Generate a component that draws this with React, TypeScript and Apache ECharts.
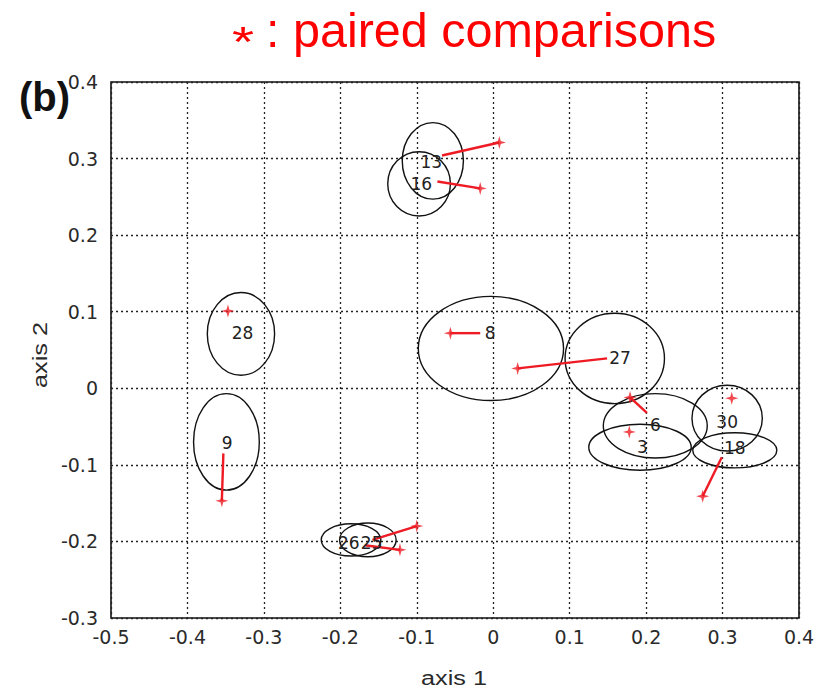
import React, { useEffect, useRef } from "react";
import * as echarts from "echarts";

// Ellipse (subject) data
const labels = ["13", "16", "28", "9", "8", "27", "6", "3", "30", "18", "26", "25"];
const centerX = [-0.079, -0.097, -0.33, -0.349, -0.003, 0.159, 0.212, 0.192, 0.306, 0.316, -0.186, -0.164];
const centerY = [0.297, 0.267, 0.071, -0.07, 0.052, 0.039, -0.049, -0.077, -0.039, -0.081, -0.198, -0.198];
const radiusX = [0.04, 0.041, 0.044, 0.043, 0.095, 0.065, 0.068, 0.067, 0.046, 0.055, 0.039, 0.037];
const radiusY = [0.05, 0.042, 0.054, 0.063, 0.068, 0.059, 0.042, 0.03, 0.043, 0.023, 0.021, 0.022];
const labelX = [-0.081, -0.094, -0.328, -0.348, -0.004, 0.166, 0.212, 0.195, 0.306, 0.316, -0.189, -0.159];
const labelY = [0.295, 0.267, 0.072, -0.072, 0.072, 0.039, -0.048, -0.077, -0.044, -0.078, -0.202, -0.202];
// Paired-comparison estimates (red stars)
const starX = [0.008, -0.017, -0.347, -0.355, -0.056, 0.032, 0.179, 0.178, 0.312, 0.274, -0.122, -0.1];
const starY = [0.321, 0.261, 0.101, -0.147, 0.072, 0.026, -0.012, -0.057, -0.013, -0.141, -0.211, -0.18];
// Where the connecting red line ends (null = no line)
const lineEndX = [-0.067, -0.073, null, -0.353, -0.017, 0.149, 0.201, null, null, 0.299, -0.168, -0.158];
const lineEndY = [0.304, 0.27, null, -0.085, 0.072, 0.039, -0.032, null, null, -0.09, -0.205, -0.198];

const xTicks = { min: -0.5, max: 0.4, interval: 0.1 };
const yTicks = { min: -0.3, max: 0.4, interval: 0.1 };

const FONT = "'Liberation Sans', Arial, Helvetica, sans-serif";
const WIDE = "'DejaVu Sans', 'Liberation Sans', Arial, sans-serif";
const RED = "#ee1b24";
const TITLE_RED = "#ff0000";
const STAR = "path://M0,-10 L2.2,-2.2 L10,0 L2.2,2.2 L0,10 L-2.2,2.2 L-10,0 L-2.2,-2.2 Z";

const fmt = (v: number) => {
  const n = parseFloat(v.toFixed(1));
  return (n === 0 ? 0 : n).toString();
};

export default function App() {
  const ref = useRef<HTMLDivElement>(null);
  useEffect(() => {
    if (!ref.current) return;
    const chart = echarts.init(ref.current, undefined, { renderer: "svg" });

    const ellipseData = labels.map((_, i) => [centerX[i], centerY[i], radiusX[i], radiusY[i]]);
    const lineData: number[][] = [];
    labels.forEach((_, i) => {
      if (lineEndX[i] !== null && lineEndY[i] !== null) {
        lineData.push([starX[i], starY[i], lineEndX[i] as number, lineEndY[i] as number]);
      }
    });
    const starData = labels.map((_, i) => [starX[i], starY[i]]);
    const labelData = labels.map((l, i) => [labelX[i], labelY[i], l]);

    const option: any = {
      animation: false,
      backgroundColor: "#ffffff",
      grid: {
        left: 111,
        top: 82,
        width: 688,
        height: 536,
        show: true,
        borderColor: "#111",
        borderWidth: 1.6,
        backgroundColor: "transparent",
      },
      xAxis: {
        type: "value",
        min: xTicks.min,
        max: xTicks.max,
        interval: xTicks.interval,
        axisLine: { show: false },
        axisTick: { show: false },
        axisLabel: {
          formatter: fmt,
          fontFamily: WIDE,
          fontSize: 19,
          color: "#2a2a2a",
          margin: 9,
        },
        splitLine: { show: true, lineStyle: { color: "#222", type: [2, 3], width: 1.3 } },
      },
      yAxis: {
        type: "value",
        min: yTicks.min,
        max: yTicks.max,
        interval: yTicks.interval,
        axisLine: { show: false },
        axisTick: { show: false },
        axisLabel: {
          formatter: fmt,
          fontFamily: WIDE,
          fontSize: 19,
          color: "#2a2a2a",
          margin: 13,
        },
        splitLine: { show: true, lineStyle: { color: "#222", type: [2, 3], width: 1.3 } },
      },
      graphic: [
        {
          type: "text",
          x: 243,
          y: 42,
          scaleX: 1.35,
          style: { text: "*", font: `42px ${FONT}`, fill: TITLE_RED, align: "center", verticalAlign: "middle" },
        },
        {
          type: "text",
          left: 266,
          top: 5,
          style: { text: ": paired comparisons", font: `48.5px ${FONT}`, fill: TITLE_RED },
        },
        {
          type: "text",
          left: 19,
          top: 77,
          style: { text: "(b)", font: `bold 40px ${FONT}`, fill: "#111" },
        },
        {
          type: "text",
          x: 454,
          y: 678,
          scaleX: 1.2,
          style: { text: "axis 1", font: `21px ${FONT}`, fill: "#2a2a2a", align: "center", verticalAlign: "middle" },
        },
        {
          type: "text",
          x: 40,
          y: 355,
          rotation: Math.PI / 2,
          scaleX: 1.2,
          style: { text: "axis 2", font: `21px ${FONT}`, fill: "#2a2a2a", align: "center", verticalAlign: "middle" },
        },
      ],
      series: [
        {
          type: "custom",
          name: "ellipses",
          data: ellipseData,
          encode: { x: 0, y: 1 },
          renderItem: (params: any, api: any) => {
            const c = api.coord([api.value(0), api.value(1)]);
            const s = api.size([api.value(2), api.value(3)]);
            return {
              type: "ellipse",
              shape: { cx: c[0], cy: c[1], rx: s[0], ry: s[1] },
              style: { fill: "none", stroke: "#111", lineWidth: 1.4 },
            };
          },
          z: 3,
        },
        {
          type: "custom",
          name: "links",
          data: lineData,
          encode: { x: 0, y: 1 },
          renderItem: (params: any, api: any) => {
            const a = api.coord([api.value(0), api.value(1)]);
            const b = api.coord([api.value(2), api.value(3)]);
            return {
              type: "line",
              shape: { x1: a[0], y1: a[1], x2: b[0], y2: b[1] },
              style: { stroke: RED, lineWidth: 2.4 },
            };
          },
          z: 4,
        },
        {
          type: "scatter",
          name: "paired",
          data: starData,
          symbol: STAR,
          symbolSize: 13,
          itemStyle: { color: RED },
          z: 5,
        },
        {
          type: "custom",
          name: "labels",
          data: labelData,
          encode: { x: 0, y: 1 },
          renderItem: (params: any, api: any) => {
            const p = api.coord([api.value(0), api.value(1)]);
            return {
              type: "text",
              x: p[0],
              y: p[1],
              style: {
                text: labelData[params.dataIndex][2],
                font: `17px ${WIDE}`,
                fill: "#222",
                align: "center",
                verticalAlign: "middle",
              },
            };
          },
          z: 6,
        },
      ],
    };
    chart.setOption(option);
    return () => chart.dispose();
  }, []);
  return (
    <div
      ref={ref}
      style={{ position: "absolute", left: 0, top: 0, width: 827, height: 689, background: "#fff" }}
    />
  );
}
